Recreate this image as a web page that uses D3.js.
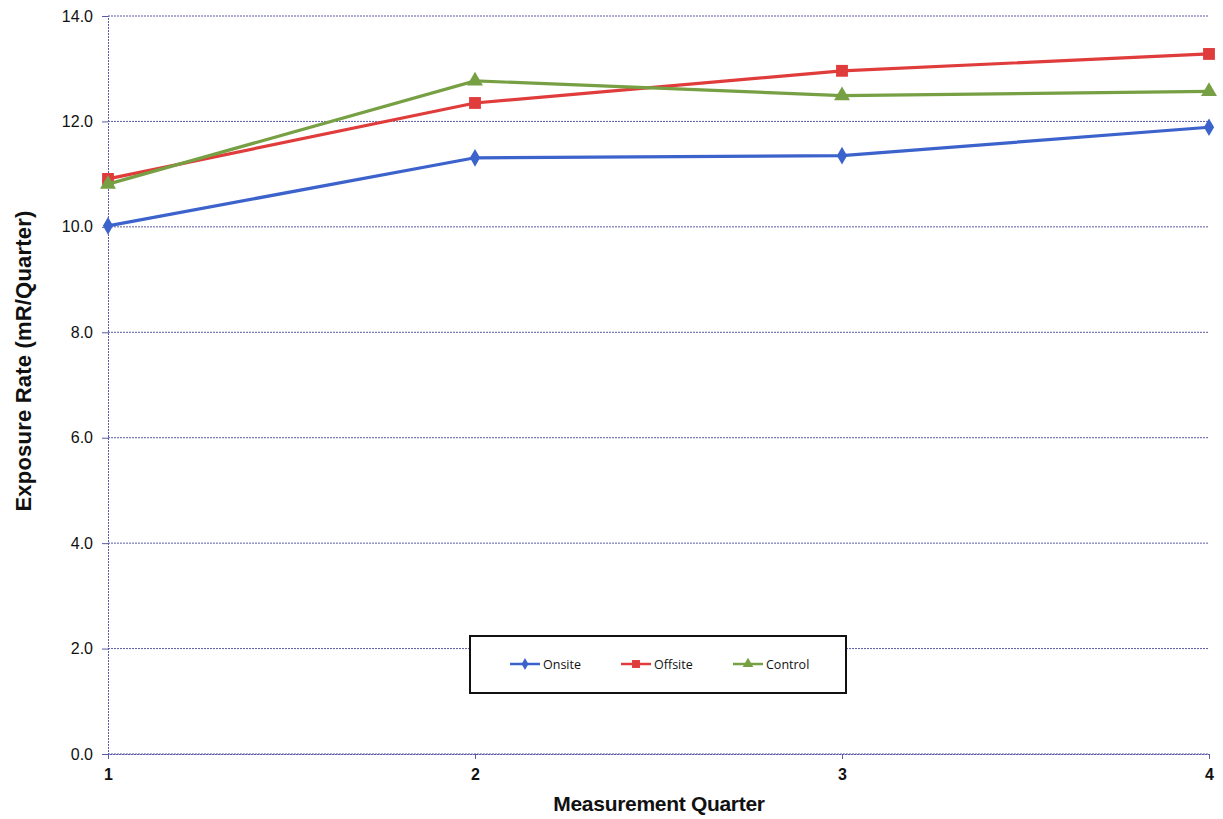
<!DOCTYPE html>
<html><head><meta charset="utf-8">
<script src="https://cdn.jsdelivr.net/npm/d3@7"></script>
<style>body{margin:0;background:#fff}svg{display:block}</style>
</head><body>
<script>
const quarters = [1, 2, 3, 4];
const onsite = [10.02, 11.31, 11.35, 11.89];
const offsite = [10.91, 12.35, 12.96, 13.28];
const control = [10.81, 12.77, 12.49, 12.57];
const yTicks = [0, 2, 4, 6, 8, 10, 12, 14];
const seriesNames = ["Onsite", "Offsite", "Control"];

const W = 1223, H = 819;
const svg = d3.select("body").append("svg").attr("width", W).attr("height", H);
const x = d3.scaleLinear().domain([1, 4]).range([108, 1209]);
const y = d3.scaleLinear().domain([0, 14]).range([754, 16]);
const grid = "#5a5aa8";
const font = "Liberation Sans, Arial, sans-serif";

// gridlines
svg.append("g").selectAll("line").data(yTicks).join("line")
  .attr("x1", x(1)).attr("x2", x(4)).attr("y1", d => y(d)).attr("y2", d => y(d))
  .attr("stroke", grid).attr("stroke-width", 1).attr("stroke-dasharray", "2,1");

// y axis
const yAxis = svg.append("g").attr("transform", `translate(${x(1)},0)`)
  .call(d3.axisLeft(y).tickValues(yTicks).tickFormat(d3.format(".1f")).tickSize(6).tickPadding(9));
yAxis.select(".domain").attr("stroke", grid).attr("stroke-dasharray", "2,1");
yAxis.selectAll(".tick line").attr("stroke", grid);
yAxis.selectAll("text").attr("font-family", font).attr("font-size", 16).attr("fill", "#111");

// x axis
const xAxis = svg.append("g").attr("transform", `translate(0,${y(0)})`)
  .call(d3.axisBottom(x).tickValues(quarters).tickFormat(d3.format("d")).tickSize(5).tickPadding(10));
xAxis.select(".domain").attr("stroke", grid).attr("stroke-dasharray", "2,1");
xAxis.selectAll(".tick line").attr("stroke", grid);
xAxis.selectAll("text").attr("font-family", font).attr("font-size", 16).attr("font-weight", "bold").attr("fill", "#111");

// titles
svg.append("text").attr("x", 659).attr("y", 811).attr("text-anchor", "middle")
  .attr("font-family", font).attr("font-size", 21).attr("font-weight", "bold")
  .attr("fill", "#111").attr("letter-spacing", -0.3).text("Measurement Quarter");
svg.append("text").attr("transform", "translate(31,361) rotate(-90)").attr("text-anchor", "middle")
  .attr("font-family", font).attr("font-size", 22).attr("font-weight", "bold")
  .attr("fill", "#111").attr("letter-spacing", 0.2).text("Exposure Rate (mR/Quarter)");

const series = [
  {name: seriesNames[0], values: onsite, color: "#3c62cc", shape: d3.symbolDiamond, size: 90},
  {name: seriesNames[1], values: offsite, color: "#e03c3c", shape: d3.symbolSquare, size: 140},
  {name: seriesNames[2], values: control, color: "#76a043", shape: d3.symbolTriangle, size: 110}
];
const line = d3.line().x((d, i) => x(quarters[i])).y(d => y(d));
series.forEach(s => {
  svg.append("path").attr("d", line(s.values)).attr("fill", "none")
    .attr("stroke", s.color).attr("stroke-width", 3.2);
  svg.append("g").selectAll("path").data(s.values).join("path")
    .attr("transform", (d, i) => `translate(${x(quarters[i])},${y(d)})`)
    .attr("d", d3.symbol().type(s.shape).size(s.size)).attr("fill", s.color);
});

// legend
const lg = svg.append("g");
lg.append("rect").attr("x", 470).attr("y", 636).attr("width", 376).attr("height", 57)
  .attr("fill", "#fff").attr("stroke", "#111").attr("stroke-width", 2);
const lx = [510, 621, 733];
series.forEach((s, i) => {
  const g = lg.append("g").attr("transform", `translate(${lx[i]},664)`);
  g.append("line").attr("x1", 0).attr("x2", 30).attr("stroke", s.color).attr("stroke-width", 2.5);
  g.append("path").attr("transform", "translate(15,0)")
    .attr("d", d3.symbol().type(s.shape).size(s.size * 0.45)).attr("fill", s.color);
  g.append("text").attr("x", 33).attr("y", 5).attr("font-family", "Open Sans, Liberation Sans, sans-serif")
    .attr("font-size", 12.5).attr("fill", "#111").text(s.name);
});
</script>
</body></html>
